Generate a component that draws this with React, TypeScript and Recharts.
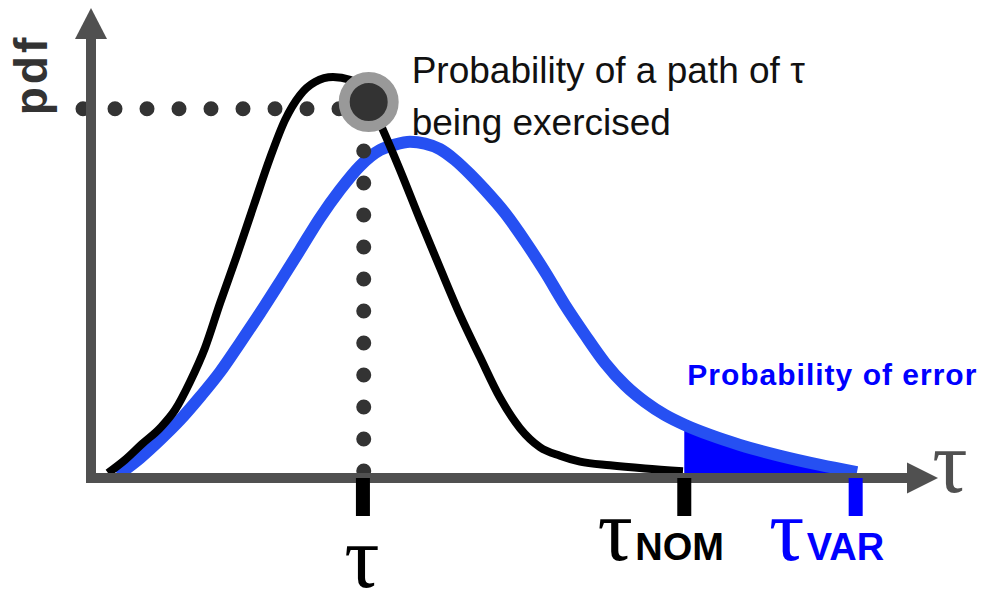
import React from 'react';
import { ComposedChart, Line, Area, XAxis, YAxis, ReferenceLine, ReferenceDot } from 'recharts';

// tau runs 0..100 along the axis, pdf 0..100 up the axis (arbitrary units)
const nominalX = [2.06, 4.13, 6.19, 8.37, 10.19, 12.01, 13.83, 15.66, 17.72, 19.78, 21.72, 23.54, 25.36, 27.18, 29.37, 31.43, 33.25, 35.44, 37.5, 39.93, 42.35, 44.78, 47.21, 49.64, 52.06, 54.49, 56.92, 59.35, 62.99, 67.23, 71.84];
const nominalY = [1.1, 4.0, 7.5, 11.0, 15.0, 21.2, 28.7, 38.6, 49.2, 60.3, 70.6, 79.0, 84.5, 87.4, 88.5, 87.9, 85.2, 76.8, 68.0, 57.0, 46.4, 36.0, 26.7, 17.7, 11.0, 6.8, 4.9, 3.6, 2.8, 2.1, 1.5];

const variedX = [3.28, 5.95, 8.37, 10.8, 13.23, 15.66, 18.08, 20.51, 22.94, 25.36, 27.79, 30.22, 32.65, 35.07, 36.89, 38.71, 40.53, 42.35, 44.17, 45.99, 47.82, 50.24, 52.67, 55.1, 57.52, 59.95, 62.38, 64.81, 67.23, 69.66, 72.09, 75.12, 78.76, 83.62, 88.47, 92.96];
const variedY = [0.7, 4.4, 8.4, 12.8, 17.9, 23.4, 29.8, 36.4, 43.3, 50.3, 57.4, 63.6, 68.9, 72.4, 73.6, 74.2, 73.8, 72.6, 70.2, 67.1, 63.6, 58.5, 52.3, 45.5, 38.2, 31.6, 25.4, 20.5, 16.8, 13.9, 11.7, 9.5, 7.3, 4.9, 2.9, 1.3];

// tail of the varied pdf beyond tau_NOM
const errorX = [72.0, 75.12, 78.76, 83.62, 88.47, 92.8];
const errorY = [11.2, 9.5, 7.3, 4.9, 2.9, 1.3];

const tickValues = [33.0, 72.0, 92.8];
const tickSymbols = ['τ', 'τ', 'τ'];
const tickSubs = ['', 'NOM', 'VAR'];

const pathPoint = { x: 33.7, y: 83.0 };
const pdfLevel = 81.5;
const pdfLevelFrom = -0.97;
const pdfLevelTo = 30.1;
const tauLine = 33.1;
const tauLineFrom = 72.2;
const tauLineTo = -5.5;

const annotationLines = ['Probability of a path of τ', 'being exercised'];
const errorLabel = 'Probability of error';

const nominalData = nominalX.map((x, i) => ({ x, y: nominalY[i] }));
const variedData = variedX.map((x, i) => ({ x, y: variedY[i] }));
const errorData = errorX.map((x, i) => ({ x, y: errorY[i] }));

const AXIS = '#505050';
const BLUE = '#2650F2';
const PURE_BLUE = '#0000FF';
const tickColors = ['#000000', '#000000', PURE_BLUE];
const SERIF = '"Liberation Serif", "DejaVu Serif", serif';
const SANS = '"Liberation Sans", Arial, sans-serif';

const TauTick = (props: any) => {
  const { x, y, payload } = props;
  const i = tickValues.indexOf(payload.value);
  const color = tickColors[i];
  const sub = tickSubs[i];
  return (
    <g>
      <rect x={x - 7} y={y} width={14} height={38} fill={color} />
      {sub ? (
        <g>
          <text x={x - 69} y={y + 82} textAnchor="middle" fontFamily={SERIF} fontSize={88} fill={color}>
            {tickSymbols[i]}
          </text>
          <text x={x - 49} y={y + 82} fontFamily={SANS} fontWeight="bold" fontSize={38} fill={color}>
            {sub}
          </text>
        </g>
      ) : (
        <text x={x - 1} y={y + 109} textAnchor="middle" fontFamily={SERIF} fontSize={88} fill={color}>
          {tickSymbols[i]}
        </text>
      )}
    </g>
  );
};

const XArrow = (props: any) => {
  const { cx, cy } = props;
  return (
    <g>
      <polygon points={`${cx + 23},${cy} ${cx - 8},${cy - 15.5} ${cx - 8},${cy + 15.5}`} fill={AXIS} />
      <text x={cx + 35} y={cy + 14} textAnchor="middle" fontFamily={SERIF} fontSize={88} fill={AXIS}>
        τ
      </text>
    </g>
  );
};

const YArrow = (props: any) => {
  const { cx, cy } = props;
  return (
    <g>
      <polygon points={`${cx},${cy - 17} ${cx - 16},${cy + 14} ${cx + 16},${cy + 14}`} fill={AXIS} />
      <text
        x={cx - 44}
        y={cy + 50}
        transform={`rotate(-90 ${cx - 44} ${cy + 50})`}
        textAnchor="middle"
        fontFamily={SANS}
        fontWeight="bold"
        fontSize={46}
        letterSpacing={3}
        fill="#333333"
      >
        pdf
      </text>
    </g>
  );
};

const PathMarker = (props: any) => {
  const { cx, cy } = props;
  return (
    <g>
      <circle cx={cx} cy={cy} r={24.5} fill="#333333" stroke="#999999" strokeWidth={11} />
      <text x={cx + 43} y={cy - 19} fontFamily={SANS} fontSize={37} fill="#111111">
        {annotationLines[0]}
      </text>
      <text x={cx + 43} y={cy + 33} fontFamily={SANS} fontSize={37} fill="#111111">
        {annotationLines[1]}
      </text>
    </g>
  );
};

const ErrorNote = (props: any) => {
  const { cx, cy } = props;
  return (
    <text x={cx + 3} y={cy - 93} fontFamily={SANS} fontWeight="bold" fontSize={30} letterSpacing={1} fill={PURE_BLUE}>
      {errorLabel}
    </text>
  );
};

export default function App() {
  return (
    <div style={{ position: 'absolute', left: 0, top: 0, width: 988, height: 589, background: '#ffffff' }}>
      <ComposedChart width={988} height={589} margin={{ top: 25, right: 73, bottom: 0, left: 0 }}>
        <XAxis
          dataKey="x"
          type="number"
          domain={[0, 100]}
          ticks={tickValues}
          interval={0}
          height={111}
          tickLine={false}
          tickSize={0}
          tickMargin={0}
          tick={<TauTick />}
          axisLine={{ stroke: AXIS, strokeWidth: 10 }}
        />
        <YAxis
          type="number"
          domain={[0, 100]}
          width={91}
          tick={false}
          tickLine={false}
          axisLine={{ stroke: AXIS, strokeWidth: 10, strokeLinecap: 'square' }}
        />
        <Area
          data={errorData}
          dataKey="y"
          type="monotone"
          fill={PURE_BLUE}
          fillOpacity={1}
          stroke="none"
          isAnimationActive={false}
        />
        <Line data={variedData} dataKey="y" type="monotone" stroke={BLUE} strokeWidth={12} dot={false} isAnimationActive={false} />
        <Line data={nominalData} dataKey="y" type="monotone" stroke="#000000" strokeWidth={8} dot={false} isAnimationActive={false} />
        <ReferenceLine
          segment={[{ x: pdfLevelFrom, y: pdfLevel }, { x: pdfLevelTo, y: pdfLevel }]}
          stroke="#333333"
          strokeWidth={15}
          strokeDasharray="0 32"
          strokeLinecap="round"
          ifOverflow="visible"
        />
        <ReferenceLine
          segment={[{ x: tauLine, y: tauLineFrom }, { x: tauLine, y: tauLineTo }]}
          stroke="#333333"
          strokeWidth={15}
          strokeDasharray="0 32"
          strokeLinecap="round"
          ifOverflow="visible"
        />
        <ReferenceDot x={100} y={0} ifOverflow="visible" shape={<XArrow />} />
        <ReferenceDot x={0} y={100} ifOverflow="visible" shape={<YArrow />} />
        <ReferenceDot x={tickValues[1]} y={0} ifOverflow="visible" shape={<ErrorNote />} />
        <ReferenceDot x={pathPoint.x} y={pathPoint.y} ifOverflow="visible" shape={<PathMarker />} />
      </ComposedChart>
    </div>
  );
}
